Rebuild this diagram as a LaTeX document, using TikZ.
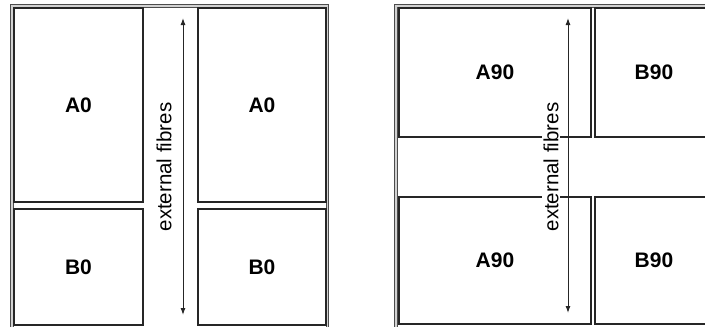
\documentclass[tikz,border=0pt]{standalone}
\usepackage{fontspec}
\setmainfont{Liberation Sans}
\usetikzlibrary{arrows.meta}
\begin{document}
\begin{tikzpicture}[x=1pt,y=-1pt,
  frame/.style={draw=gray!60!black, line width=1pt, double=gray!35, double distance=1.3pt},
  cell/.style={draw=gray!30!black, line width=1.1pt, rectangle, inner sep=0pt,
    font=\fontsize{21}{25}\selectfont\bfseries},
  fibre/.style={rotate=90, fill=white, inner sep=1.5pt, font=\fontsize{20.5}{24}\selectfont},
  fibrearrow/.style={draw=black!85, line width=1pt, {Latex[length=7pt,width=5pt]}-{Latex[length=7pt,width=5pt]}}]
\useasboundingbox (0,0) rectangle (705,327);
\clip (0,0) rectangle (705,327);
\fill[white] (0,0) rectangle (705,327);
% left panel
\draw[frame] (12,6) rectangle (327.5,335);
\node[cell, minimum width=129, minimum height=194] (a0l) at (78.5,105) {A0};
\node[cell, minimum width=129, minimum height=116] (b0l) at (78.5,267) {B0};
\node[cell, minimum width=128, minimum height=194] (a0r) at (262,105) {A0};
\node[cell, minimum width=128, minimum height=116] (b0r) at (262,267) {B0};
\coordinate (lt) at (183,18);
\coordinate (lb) at (183,315);
\draw[fibrearrow] (lt) -- (lb);
\node[fibre] (lfib) at (164,167) {external fibres};
% right panel
\draw[frame] (396,6) rectangle (720,335);
\node[cell, minimum width=192, minimum height=129] (a90t) at (495,72.5) {A90};
\node[cell, minimum width=118, minimum height=129] (b90t) at (654,72.5) {B90};
\node[cell, minimum width=192, minimum height=127] (a90b) at (495,260.5) {A90};
\node[cell, minimum width=118, minimum height=127] (b90b) at (654,260.5) {B90};
\coordinate (rt) at (568,18);
\coordinate (rb) at (568,313);
\draw[fibrearrow] (rt) -- (rb);
\node[fibre] (rfib) at (551,167) {external fibres};
\end{tikzpicture}
\end{document}
